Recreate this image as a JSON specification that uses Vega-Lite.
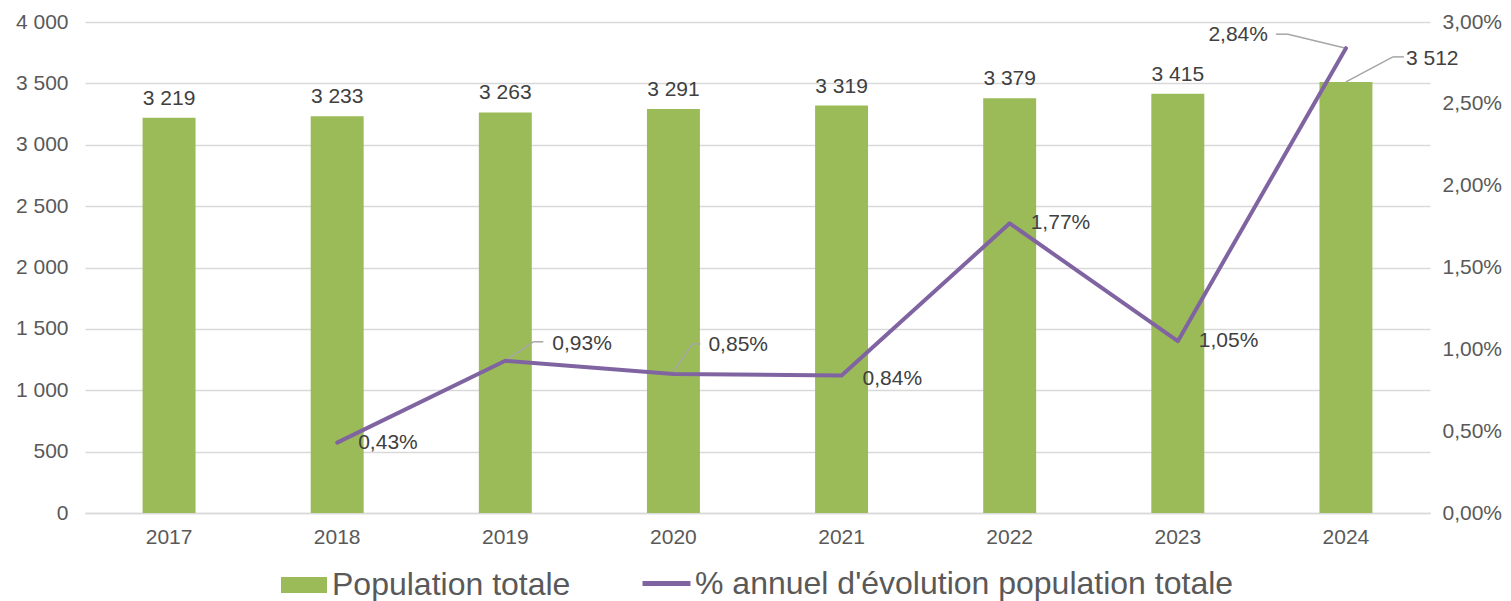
{
  "$schema": "https://vega.github.io/schema/vega-lite/v6.json",
  "width": 1345,
  "height": 491,
  "autosize": {"type": "none"},
  "padding": {"left": 85, "top": 22, "right": 81, "bottom": 88},
  "background": "white",
  "config": {
    "locale": {"number": {"decimal": ",", "thousands": " ", "grouping": [3], "currency": ["", " €"]}},
    "font": "Liberation Sans",
    "view": {"stroke": null},
    "axis": {"labelFont": "Liberation Sans", "labelFontSize": 21, "labelColor": "#595959", "ticks": false, "title": null}
  },
  "data": {"values": [
    {"year": "2017", "pop": 3219, "pct": null},
    {"year": "2018", "pop": 3233, "pct": 0.0043},
    {"year": "2019", "pop": 3263, "pct": 0.0093},
    {"year": "2020", "pop": 3291, "pct": 0.0085},
    {"year": "2021", "pop": 3319, "pct": 0.0084},
    {"year": "2022", "pop": 3379, "pct": 0.0177},
    {"year": "2023", "pop": 3415, "pct": 0.0105},
    {"year": "2024", "pop": 3512, "pct": 0.0284}
  ]},
  "encoding": {
    "x": {"field": "year", "type": "nominal", "scale": {"paddingInner": 0.685, "paddingOuter": 0.3425},
      "axis": {"labelAngle": 0, "labelPadding": 13, "domainColor": "#d9d9d9", "domainWidth": 1.5, "grid": false}}
  },
  "layer": [
    {
      "encoding": {
        "y": {"field": "pop", "type": "quantitative", "scale": {"domain": [0, 4000]},
          "axis": {"orient": "left", "values": [0, 500, 1000, 1500, 2000, 2500, 3000, 3500, 4000], "format": ",d", "domain": false, "grid": true, "gridColor": "#d9d9d9", "gridWidth": 1.5, "labelPadding": 17}}
      },
      "layer": [
        {
          "mark": {"type": "bar", "color": "#9BBB59"},
          "encoding": {
            "fill": {"datum": "Population totale", "type": "nominal", "scale": {"range": ["#9BBB59"]},
              "legend": {"orient": "none", "legendX": 196, "legendY": 540, "symbolType": "M-1,-0.35H1V0.35H-1Z", "symbolSize": 2116, "symbolStrokeWidth": 0, "labelFontSize": 32, "labelColor": "#595959", "labelFont": "Liberation Sans", "labelOffset": 5, "labelLimit": 1000, "title": null, "padding": 0}}
          }
        },
        {
          "transform": [{"filter": "datum.year != '2024'"}],
          "mark": {"type": "text", "baseline": "bottom", "dy": -9, "fontSize": 21, "color": "#404040"},
          "encoding": {"text": {"field": "pop", "type": "quantitative", "format": ",d"}}
        },
        {
          "transform": [{"filter": "datum.year == '2024'"}],
          "mark": {"type": "text", "align": "left", "baseline": "middle", "dx": 60, "dy": -23, "fontSize": 21, "color": "#404040"},
          "encoding": {"text": {"field": "pop", "type": "quantitative", "format": ",d"}}
        },
        {
          "transform": [{"filter": "datum.year == '2024'"}],
          "mark": {"type": "rule", "color": "#a6a6a6", "strokeWidth": 1.5, "xOffset": 0, "yOffset": 0, "x2Offset": 47, "y2Offset": -25},
          "encoding": {"x2": {"field": "year"}, "y2": {"field": "pop"}}
        },
        {
          "transform": [{"filter": "datum.year == '2024'"}],
          "mark": {"type": "rule", "color": "#a6a6a6", "strokeWidth": 1.5, "xOffset": 47, "yOffset": -25, "x2Offset": 58, "y2Offset": -25},
          "encoding": {"x2": {"field": "year"}, "y2": {"field": "pop"}}
        }
      ]
    },
    {
      "transform": [{"filter": "datum.pct != null"}],
      "encoding": {
        "y": {"field": "pct", "type": "quantitative", "scale": {"domain": [0, 0.03]},
          "axis": {"orient": "right", "values": [0, 0.005, 0.01, 0.015, 0.02, 0.025, 0.03], "format": ".2%", "domain": false, "grid": false, "labelPadding": 12}}
      },
      "layer": [
        {
          "transform": [{"filter": "datum.year == '2019'"}],
          "mark": {"type": "rule", "color": "#a6a6a6", "strokeWidth": 1.5, "xOffset": 0, "yOffset": 0, "x2Offset": 28, "y2Offset": -19},
          "encoding": {"x2": {"field": "year"}, "y2": {"field": "pct"}}
        },
        {
          "transform": [{"filter": "datum.year == '2019'"}],
          "mark": {"type": "rule", "color": "#a6a6a6", "strokeWidth": 1.5, "xOffset": 28, "yOffset": -19, "x2Offset": 38, "y2Offset": -19},
          "encoding": {"x2": {"field": "year"}, "y2": {"field": "pct"}}
        },
        {
          "transform": [{"filter": "datum.year == '2020'"}],
          "mark": {"type": "rule", "color": "#a6a6a6", "strokeWidth": 1.5, "xOffset": 0, "yOffset": -2, "x2Offset": 19, "y2Offset": -30},
          "encoding": {"x2": {"field": "year"}, "y2": {"field": "pct"}}
        },
        {
          "transform": [{"filter": "datum.year == '2020'"}],
          "mark": {"type": "rule", "color": "#a6a6a6", "strokeWidth": 1.5, "xOffset": 19, "yOffset": -30, "x2Offset": 27, "y2Offset": -30},
          "encoding": {"x2": {"field": "year"}, "y2": {"field": "pct"}}
        },
        {
          "transform": [{"filter": "datum.year == '2024'"}],
          "mark": {"type": "rule", "color": "#a6a6a6", "strokeWidth": 1.5, "xOffset": 0, "yOffset": 0, "x2Offset": -58, "y2Offset": -14},
          "encoding": {"x2": {"field": "year"}, "y2": {"field": "pct"}}
        },
        {
          "transform": [{"filter": "datum.year == '2024'"}],
          "mark": {"type": "rule", "color": "#a6a6a6", "strokeWidth": 1.5, "xOffset": -58, "yOffset": -14, "x2Offset": -70, "y2Offset": -14},
          "encoding": {"x2": {"field": "year"}, "y2": {"field": "pct"}}
        },
        {
          "mark": {"type": "line", "strokeWidth": 4, "strokeCap": "round", "strokeJoin": "round"},
          "encoding": {
            "stroke": {"datum": "% annuel d'évolution population totale", "type": "nominal", "scale": {"range": ["#8064A2"]},
              "legend": {"orient": "none", "legendX": 555, "legendY": 535, "symbolType": "stroke", "symbolSize": 2304, "symbolStrokeWidth": 5, "labelFontSize": 32, "labelColor": "#595959", "labelFont": "Liberation Sans", "labelOffset": 2, "labelLimit": 1000, "title": null, "padding": 0}}
          }
        },
        {
          "transform": [{"filter": "datum.year == '2018' || datum.year == '2022' || datum.year == '2023'"}],
          "mark": {"type": "text", "align": "left", "baseline": "middle", "dx": 21, "dy": 0, "fontSize": 21, "color": "#404040"},
          "encoding": {"text": {"field": "pct", "type": "quantitative", "format": ".2%"}}
        },
        {
          "transform": [{"filter": "datum.year == '2021'"}],
          "mark": {"type": "text", "align": "left", "baseline": "middle", "dx": 21, "dy": 3, "fontSize": 21, "color": "#404040"},
          "encoding": {"text": {"field": "pct", "type": "quantitative", "format": ".2%"}}
        },
        {
          "transform": [{"filter": "datum.year == '2019'"}],
          "mark": {"type": "text", "align": "left", "baseline": "middle", "dx": 47, "dy": -17, "fontSize": 21, "color": "#404040"},
          "encoding": {"text": {"field": "pct", "type": "quantitative", "format": ".2%"}}
        },
        {
          "transform": [{"filter": "datum.year == '2020'"}],
          "mark": {"type": "text", "align": "left", "baseline": "middle", "dx": 35, "dy": -29, "fontSize": 21, "color": "#404040"},
          "encoding": {"text": {"field": "pct", "type": "quantitative", "format": ".2%"}}
        },
        {
          "transform": [{"filter": "datum.year == '2024'"}],
          "mark": {"type": "text", "align": "right", "baseline": "middle", "dx": -78, "dy": -13, "fontSize": 21, "color": "#404040"},
          "encoding": {"text": {"field": "pct", "type": "quantitative", "format": ".2%"}}
        }
      ]
    }
  ],
  "resolve": {"scale": {"y": "independent", "fill": "independent", "stroke": "independent"}}
}
